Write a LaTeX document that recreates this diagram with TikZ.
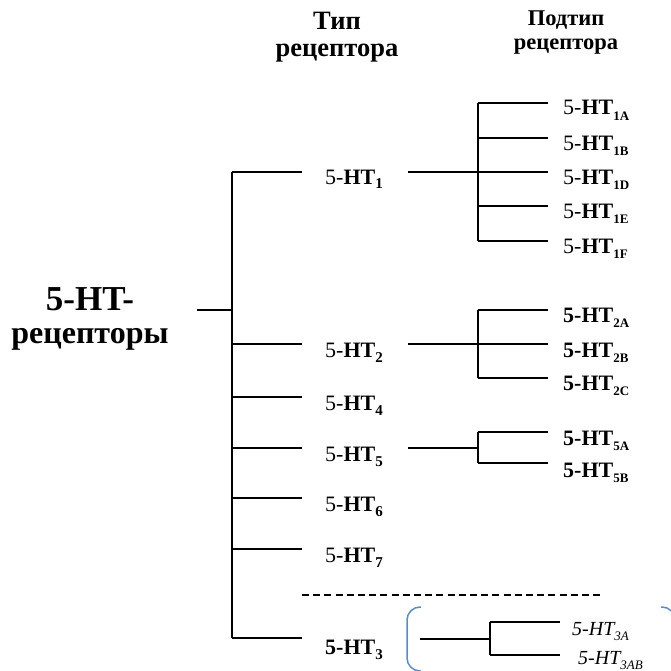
\documentclass[tikz,border=0pt]{standalone}
\usepackage{fontspec}
\setmainfont{Liberation Serif}
\newcommand\sbA[1]{\raisebox{-5pt}{\fontsize{15}{15}\selectfont\bfseries #1}}
\newcommand\sbB[1]{\raisebox{-5.5pt}{\fontsize{13}{13}\selectfont\bfseries #1}}
\newcommand\sbI[1]{\raisebox{-5pt}{\fontsize{13}{13}\selectfont\itshape #1}}
\definecolor{brk}{HTML}{5B8BC9}
\tikzset{
  ln/.style={line width=1.4pt},
  lbl/.style={anchor=base west, inner sep=0pt, font=\fontsize{22}{22}\selectfont},
  ilbl/.style={anchor=base west, inner sep=0pt, font=\fontsize{20}{20}\selectfont\itshape},
}
\begin{document}
\begin{tikzpicture}[x=1pt,y=-1pt]
\useasboundingbox (0,0) rectangle (670,671);
% headers
\node[inner sep=0pt, anchor=north, align=center, font=\fontsize{26.5}{27}\selectfont\bfseries] (hA) at (337,12) {Тип\\рецептора};
\node[inner sep=0pt, anchor=north, align=center, font=\fontsize{22.5}{24}\selectfont\bfseries] (hB) at (566,11) {Подтип\\рецептора};
% title
\node[inner sep=0pt, anchor=north, align=center, font=\fontsize{35}{33}\selectfont\bfseries] (title) at (90,287) {5-HT-\\{\fontsize{32}{33}\selectfont рецепторы}};
% type labels
\node[lbl] (t1) at (325,184) {5-\textbf{HT}\sbA{1}};
\node[lbl] (t2) at (325,357) {5-\textbf{HT}\sbA{2}};
\node[lbl] (t4) at (325,410) {5-\textbf{HT}\sbA{4}};
\node[lbl] (t5) at (325,461) {5-\textbf{HT}\sbA{5}};
\node[lbl] (t6) at (325,511) {5-\textbf{HT}\sbA{6}};
\node[lbl] (t7) at (325,562) {5-\textbf{HT}\sbA{7}};
\node[lbl] (t3) at (325,654) {\textbf{5-HT}\sbA{3}};
% subtype labels
\node[lbl] (s1a) at (563,115) {5-\textbf{HT}\sbB{1A}};
\node[lbl] (s1b) at (563,150) {5-\textbf{HT}\sbB{1B}};
\node[lbl] (s1d) at (563,184) {5-\textbf{HT}\sbB{1D}};
\node[lbl] (s1e) at (563,218) {5-\textbf{HT}\sbB{1E}};
\node[lbl] (s1f) at (563,253) {5-\textbf{HT}\sbB{1F}};
\node[lbl] (s2a) at (563,322) {\textbf{5-HT}\sbB{2A}};
\node[lbl] (s2b) at (563,357) {\textbf{5-HT}\sbB{2B}};
\node[lbl] (s2c) at (563,390) {\textbf{5-HT}\sbB{2C}};
\node[lbl] (s5a) at (563,445) {\textbf{5-HT}\sbB{5A}};
\node[lbl] (s5b) at (563,477) {\textbf{5-HT}\sbB{5B}};
\node[ilbl] (s3a) at (572,635) {5-HT\sbI{3A}};
\node[ilbl] (s3ab) at (578,664) {5-HT\sbI{3AB}};
% coordinates
\coordinate (root) at (197,310);
\coordinate (trk) at (232,310);
\coordinate (trkT) at (232,172);
\coordinate (trkB) at (232,638);
\foreach \n/\y in {1/172,2/344,4/397,5/448,6/498,7/549,3/638}{
  \coordinate (a\n) at (232,\y);
  \coordinate (b\n) at (302,\y);
}
% main tree
\draw[ln] (root) -- (trk);
\draw[ln] (trkT) -- (trkB);
\foreach \n in {1,2,4,5,6,7,3}{ \draw[ln] (a\n) -- (b\n); }
% 5-HT1 group
\coordinate (g1s) at (408,172); \coordinate (g1j) at (478,172);
\draw[ln] (g1s) -- (g1j);
\coordinate (g1t) at (478,103); \coordinate (g1b) at (478,241);
\draw[ln] (g1t) -- (g1b);
\foreach \y in {103,138,172,206,241}{ \draw[ln] (478,\y) coordinate (p) -- (548,\y) coordinate (q); }
% 5-HT2 group
\coordinate (g2s) at (408,344); \coordinate (g2j) at (478,344);
\draw[ln] (g2s) -- (g2j);
\coordinate (g2t) at (478,310); \coordinate (g2b) at (478,378);
\draw[ln] (g2t) -- (g2b);
\foreach \y in {310,344,378}{ \draw[ln] (478,\y) coordinate (p) -- (548,\y) coordinate (q); }
% 5-HT5 group
\coordinate (g5s) at (408,448); \coordinate (g5j) at (478,448);
\draw[ln] (g5s) -- (g5j);
\coordinate (g5t) at (478,432); \coordinate (g5b) at (478,463);
\draw[ln] (g5t) -- (g5b);
\foreach \y in {432,463}{ \draw[ln] (478,\y) coordinate (p) -- (548,\y) coordinate (q); }
% dashed separator
\coordinate (dL) at (302,595); \coordinate (dR) at (600,595);
\draw[line width=1.3pt, dash pattern=on 7pt off 4.2pt] (dL) -- (dR);
% 5-HT3 group
\coordinate (g3s) at (420,639); \coordinate (g3j) at (490,639);
\draw[ln] (g3s) -- (g3j);
\coordinate (g3t) at (490,622); \coordinate (g3b) at (490,655);
\draw[ln] (g3t) -- (g3b);
\foreach \y in {622,655}{ \draw[ln] (490,\y) coordinate (p) -- (560,\y) coordinate (q); }
% bracket pair
\draw[brk, line width=1.5pt, rounded corners=13pt] (421,607) -- (407,607) -- (407,671) -- (421,671);
\draw[brk, line width=1.5pt, rounded corners=13pt] (661,607) -- (675,607) -- (675,690);
\end{tikzpicture}
\end{document}
